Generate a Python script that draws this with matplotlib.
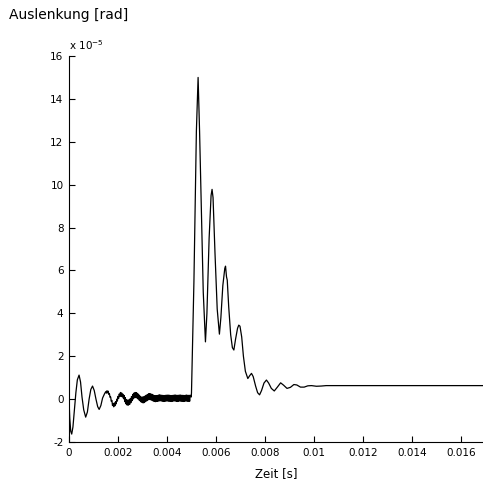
import numpy as np
import matplotlib
matplotlib.use('Agg')
import matplotlib.pyplot as plt

# Start: slow damped oscillation (t in s, y in 1e-5 rad)
t_start = [0.0, 0.00003, 0.00007, 0.00011, 0.00016, 0.00022, 0.00028, 0.00034,
           0.00041, 0.00047, 0.00053, 0.00060, 0.00068, 0.00075, 0.00082, 0.00089,
           0.00096, 0.00103, 0.00110, 0.00117, 0.00123, 0.00130, 0.00137, 0.00145]
y_start = [0.0, -0.9, -1.5, -1.63, -1.3, -0.5, 0.3, 0.9,
           1.12, 0.8, 0.1, -0.5, -0.84, -0.6, 0.0, 0.45,
           0.61, 0.4, 0.0, -0.35, -0.48, -0.3, 0.05, 0.25]

# Ripple, sampled every 0.025 ms from 1.5 ms to 2.975 ms
y_ripple_a = [0.35, 0.28, 0.39, 0.29, 0.37, 0.22, 0.25, 0.08, 0.10, -0.10,
              -0.06, -0.30, -0.20, -0.36, -0.18, -0.31, -0.12, -0.22, 0.00, -0.09,
              0.13, 0.03, 0.24, 0.12, 0.31, 0.14, 0.29, 0.10, 0.23, 0.02,
              0.17, -0.12, 0.07, -0.22, -0.02, -0.28, -0.05, -0.28, -0.03, -0.25,
              0.02, -0.17, 0.12, -0.07, 0.22, 0.01, 0.28, 0.06, 0.31, 0.07,
              0.30, 0.05, 0.27, 0.00, 0.20, -0.07, 0.14, -0.12, 0.10, -0.15]
t_ripple_a = np.linspace(0.0015, 0.002975, len(y_ripple_a))

# Ripple, sampled every 0.025 ms from 3.0 ms to 4.95 ms
y_ripple_b = [0.10, -0.18, 0.11, -0.16, 0.14, -0.12, 0.18, -0.08, 0.22, -0.04,
              0.25, -0.02, 0.26, -0.03, 0.24, -0.05, 0.22, -0.08, 0.19, -0.11,
              0.16, -0.12, 0.16, -0.11, 0.17, -0.10, 0.19, -0.09, 0.20, -0.08,
              0.19, -0.09, 0.18, -0.10, 0.17, -0.11, 0.17, -0.10, 0.18, -0.09,
              0.19, -0.09, 0.19, -0.10, 0.18, -0.10, 0.17, -0.11, 0.17, -0.10,
              0.18, -0.09, 0.19, -0.09, 0.19, -0.10, 0.18, -0.11, 0.18, -0.10,
              0.19, -0.09, 0.19, -0.10, 0.18, -0.10, 0.18, -0.11, 0.17, -0.10,
              0.18, -0.09, 0.19, -0.10, 0.18, -0.10, 0.18, -0.10, 0.18]
t_ripple_b = np.linspace(0.0030, 0.00495, len(y_ripple_b))

# Impact and decay
t_hit = [0.00499, 0.00500, 0.00510, 0.00520, 0.00527, 0.00533, 0.00540, 0.00548,
         0.00557, 0.00563, 0.00572, 0.00580, 0.00584, 0.00588, 0.00596, 0.00605,
         0.00614, 0.00620, 0.00628, 0.00636, 0.00639, 0.00643, 0.00646, 0.00652,
         0.00660, 0.00667, 0.00673, 0.00680, 0.00688, 0.00693, 0.00698, 0.00705,
         0.00712, 0.00720, 0.00730, 0.00738, 0.00745, 0.00752, 0.00762, 0.00770,
         0.00778, 0.00786, 0.00796, 0.00806, 0.00815, 0.00826, 0.00838, 0.00850,
         0.00864, 0.00876, 0.00890, 0.00904, 0.00918, 0.00930, 0.00945, 0.00960,
         0.00975, 0.00990, 0.0101, 0.0103, 0.0105, 0.0110, 0.0169]
y_hit = [0.1, 0.3, 5.5, 12.5, 15.0, 12.5, 9.0, 5.0,
         2.67, 4.0, 7.5, 9.5, 9.78, 9.4, 6.8, 4.2,
         3.03, 3.8, 5.3, 6.1, 6.2, 5.7, 5.55, 4.3,
         3.0, 2.4, 2.29, 2.8, 3.3, 3.45, 3.4, 2.9,
         2.0, 1.3, 0.96, 1.1, 1.2, 1.05, 0.6, 0.3,
         0.2, 0.4, 0.75, 0.89, 0.75, 0.5, 0.38, 0.55,
         0.76, 0.65, 0.5, 0.55, 0.68, 0.66, 0.56, 0.56,
         0.62, 0.63, 0.6, 0.61, 0.63, 0.63, 0.63]

xticks = [0, 0.002, 0.004, 0.006, 0.008, 0.01, 0.012, 0.014, 0.016]
xlabels = ['0', '0.002', '0.004', '0.006', '0.008', '0.01', '0.012', '0.014', '0.016']
yticks = [-2, 0, 2, 4, 6, 8, 10, 12, 14, 16]
ylabels = ['-2', '0', '2', '4', '6', '8', '10', '12', '14', '16']

t = np.concatenate([t_start, t_ripple_a, t_ripple_b, t_hit])
y = np.concatenate([y_start, y_ripple_a, y_ripple_b, y_hit])

plt.rcParams['font.family'] = ['DejaVu Sans']

fig = plt.figure(figsize=(4.83, 4.92), dpi=100)
ax = fig.add_axes([0.1429, 0.1016, 0.857, 0.7846])
ax.plot(t, y, color='black', linewidth=0.9)

ax.set_xlim(0, 0.0169)
ax.set_ylim(-2, 16)
ax.set_xticks(xticks)
ax.set_xticklabels(xlabels)
ax.set_yticks(yticks)
ax.set_yticklabels(ylabels)
ax.tick_params(direction='in', length=4, width=0.8, labelsize=7.5, pad=4)
ax.spines['top'].set_visible(False)
ax.spines['right'].set_visible(False)
ax.spines['left'].set_linewidth(0.8)
ax.spines['bottom'].set_linewidth(0.8)

ax.set_xlabel('Zeit [s]', fontsize=8.5, labelpad=7)
fig.text(0.018, 0.97, 'Auslenkung [rad]', fontsize=10, va='center', ha='left')
ax.text(0.0, 1.01, r'x 10$^{-5}$', transform=ax.transAxes, fontsize=7.5,
        ha='left', va='bottom')

fig.savefig('out.png', dpi=100)
